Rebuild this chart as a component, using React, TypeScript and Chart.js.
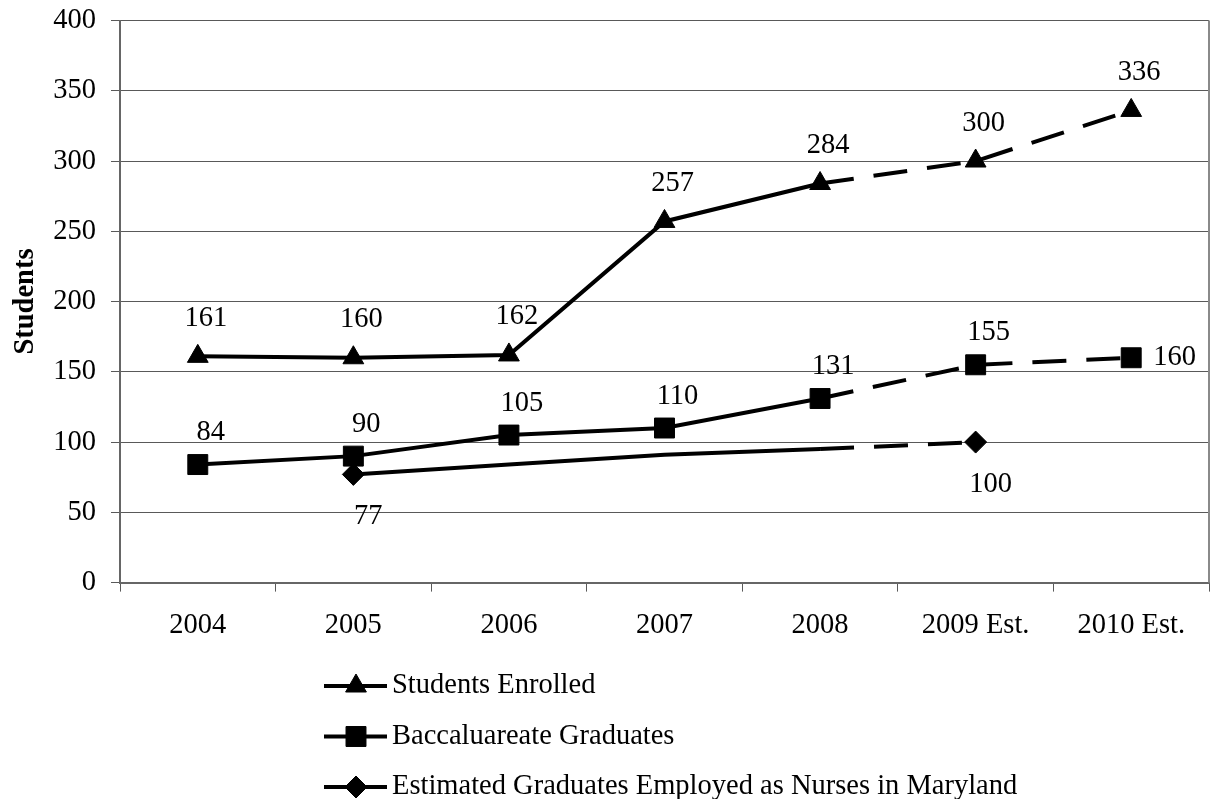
import React, { useEffect, useRef } from "react";
import { Chart, registerables } from "chart.js";

Chart.register(...registerables);

// ---------- data ----------
const categories = ["2004", "2005", "2006", "2007", "2008", "2009 Est.", "2010 Est."];
const studentsEnrolled = [161, 160, 162, 257, 284, 300, 336];
const baccalaureateGraduates = [84, 90, 105, 110, 131, 155, 160];
const graduatesEmployedMD = [null, 77, 84, 91, 95, 100, null];
const employedShown = [false, true, false, false, false, true, false];
const seriesNames = [
  "Students Enrolled",
  "Baccaluareate Graduates",
  "Estimated Graduates Employed as Nurses in Maryland",
];
const yMin = 0;
const yMax = 400;
const yStep = 50;
const yTitle = "Students";
const estimateFromIndex = 4;

// ---------- style ----------
const FONT = "'Liberation Serif', 'Times New Roman', serif";
const FS = 28.5;
const GRID = "#595959";
const AXIS = "#666666";
const DASH = [34, 20];
const PLOT_LEFT = 120;
const PLOT_RIGHT = 1209;
const PLOT_TOP = 20.5;
const PLOT_BOTTOM = 582.6;

type Marker = "triangle" | "rect" | "rectRot";

function drawMarker(ctx: CanvasRenderingContext2D, style: Marker, x: number, y: number, r: number) {
  ctx.beginPath();
  if (style === "triangle") {
    let rad = 0;
    ctx.moveTo(x + Math.sin(rad) * r, y - Math.cos(rad) * r);
    rad += (2 * Math.PI) / 3;
    ctx.lineTo(x + Math.sin(rad) * r, y - Math.cos(rad) * r);
    rad += (2 * Math.PI) / 3;
    ctx.lineTo(x + Math.sin(rad) * r, y - Math.cos(rad) * r);
  } else if (style === "rect") {
    const s = Math.SQRT1_2 * r;
    ctx.rect(x - s, y - s, 2 * s, 2 * s);
  } else {
    ctx.moveTo(x - r, y);
    ctx.lineTo(x, y - r);
    ctx.lineTo(x + r, y);
    ctx.lineTo(x, y + r);
  }
  ctx.closePath();
  ctx.fill();
  ctx.stroke();
}

const valueLabelPlugin = {
  id: "valueLabels",
  afterDatasetsDraw(chart: any) {
    const ctx: CanvasRenderingContext2D = chart.ctx;
    ctx.save();
    ctx.font = `${FS}px ${FONT}`;
    ctx.fillStyle = "#000";
    ctx.textBaseline = "middle";
    chart.data.datasets.forEach((ds: any, di: number) => {
      const meta = chart.getDatasetMeta(di);
      const lc = ds.labelCfg;
      meta.data.forEach((pt: any, i: number) => {
        const v = ds.data[i];
        if (v == null) return;
        if (ds.labelShown && !ds.labelShown[i]) return;
        const isLastRight = lc.lastRight && i === ds.data.length - 1;
        if (isLastRight) {
          ctx.textAlign = "left";
          ctx.fillText(String(v), pt.x + 22, pt.y);
        } else {
          ctx.textAlign = "center";
          ctx.fillText(String(v), pt.x + lc.dx, pt.y + lc.dy);
        }
      });
    });
    ctx.restore();
  },
};

const frameAndLegendPlugin = {
  id: "frameAndLegend",
  afterDraw(chart: any) {
    const ctx: CanvasRenderingContext2D = chart.ctx;
    const a = chart.chartArea;
    ctx.save();
    // right border of plot area
    ctx.strokeStyle = "#8a8a8a";
    ctx.lineWidth = 2;
    ctx.beginPath();
    ctx.moveTo(a.right, a.top);
    ctx.lineTo(a.right, a.bottom);
    ctx.stroke();

    // stacked legend
    const lx = 324;
    const ly0 = 686;
    const row = 50.5;
    chart.data.datasets.forEach((ds: any, i: number) => {
      const y = ly0 + i * row;
      ctx.strokeStyle = "#000";
      ctx.fillStyle = "#000";
      ctx.lineWidth = 4;
      ctx.setLineDash([]);
      ctx.beginPath();
      ctx.moveTo(lx, y);
      ctx.lineTo(lx + 63, y);
      ctx.stroke();
      ctx.lineWidth = 1;
      drawMarker(ctx, ds.pointStyle, lx + 32, y, ds.legendRadius);
      ctx.font = `${FS}px ${FONT}`;
      ctx.textAlign = "left";
      ctx.textBaseline = "middle";
      ctx.fillText(ds.label, lx + 68, y);
    });
    ctx.restore();
  },
};

const dashAfterEstimate = {
  borderDash: (c: any) => (c.p0DataIndex >= estimateFromIndex ? DASH : undefined),
};

export default function App() {
  const ref = useRef<HTMLCanvasElement | null>(null);

  useEffect(() => {
    if (!ref.current) return;
    const chart = new Chart(ref.current, {
      type: "line",
      data: {
        labels: categories,
        datasets: [
          {
            label: seriesNames[0],
            data: studentsEnrolled,
            borderColor: "#000",
            backgroundColor: "#000",
            borderWidth: 4,
            pointStyle: "triangle",
            pointRadius: 12,
            pointBorderWidth: 1,
            pointBackgroundColor: "#000",
            pointBorderColor: "#000",
            segment: dashAfterEstimate,
            labelCfg: { dx: 8, dy: -38 },
            legendRadius: 12,
          } as any,
          {
            label: seriesNames[1],
            data: baccalaureateGraduates,
            borderColor: "#000",
            backgroundColor: "#000",
            borderWidth: 4,
            pointStyle: "rect",
            pointRadius: 14.1,
            pointBorderWidth: 1,
            pointBackgroundColor: "#000",
            pointBorderColor: "#000",
            segment: dashAfterEstimate,
            labelCfg: { dx: 13, dy: -32, lastRight: true },
            legendRadius: 14.1,
          } as any,
          {
            label: seriesNames[2],
            data: graduatesEmployedMD,
            borderColor: "#000",
            backgroundColor: "#000",
            borderWidth: 4,
            pointStyle: "rectRot",
            pointRadius: employedShown.map((s) => (s ? 11 : 0)),
            pointBorderWidth: 1,
            pointBackgroundColor: "#000",
            pointBorderColor: "#000",
            segment: dashAfterEstimate,
            labelShown: employedShown,
            labelCfg: { dx: 15, dy: 42 },
            legendRadius: 11,
          } as any,
        ],
      },
      options: {
        responsive: false,
        animation: false,
        devicePixelRatio: 1,
        events: [],
        layout: { padding: { top: PLOT_TOP, right: 2, left: 0, bottom: 0 } },
        plugins: {
          legend: { display: false },
          tooltip: { enabled: false },
          title: { display: false },
        },
        scales: {
          x: {
            type: "category",
            offset: true,
            grid: {
              display: true,
              drawOnChartArea: false,
              drawTicks: true,
              tickLength: 9,
              offset: true,
              color: GRID,
              tickColor: GRID,
            },
            border: { display: true, color: AXIS, width: 2 },
            ticks: {
              color: "#000",
              padding: 17,
              maxRotation: 0,
              autoSkip: false,
              font: { family: FONT, size: FS },
            },
            afterFit: (scale: any) => {
              scale.height = 799 - PLOT_BOTTOM;
              scale.paddingLeft = 0;
              scale.paddingRight = 0;
            },
          },
          y: {
            min: yMin,
            max: yMax,
            grid: {
              color: GRID,
              tickColor: GRID,
              lineWidth: 1,
              tickLength: 9,
            },
            border: { display: true, color: AXIS, width: 2 },
            ticks: {
              stepSize: yStep,
              color: "#000",
              padding: 15,
              font: { family: FONT, size: FS },
            },
            title: {
              display: true,
              text: yTitle,
              color: "#000",
              padding: { top: 9, bottom: 0 },
              font: { family: FONT, size: FS, weight: "bold" },
            },
            afterFit: (scale: any) => {
              scale.width = PLOT_LEFT;
              scale.paddingTop = 0;
              scale.paddingBottom = 0;
            },
          },
        },
      },
      plugins: [
        {
          id: "pinChartArea",
          afterLayout(chart: any) {
            // keep the plot frame where the reference has it
            const a = chart.chartArea;
            const xs = chart.scales.x;
            if (a.right !== PLOT_RIGHT) {
              a.right = PLOT_RIGHT;
              a.width = a.right - a.left;
              xs.right = PLOT_RIGHT;
              xs.width = xs.right - xs.left;
              xs.configure();
              xs.generateTickLabels?.(xs.ticks);
            }
          },
        },
        valueLabelPlugin,
        frameAndLegendPlugin,
      ],
    } as any);
    return () => chart.destroy();
  }, []);

  return (
    <div style={{ position: "absolute", left: 0, top: 0, width: 1211, height: 799, background: "#fff" }}>
      <canvas ref={ref} width={1211} height={799} style={{ display: "block", width: 1211, height: 799 }} />
    </div>
  );
}
